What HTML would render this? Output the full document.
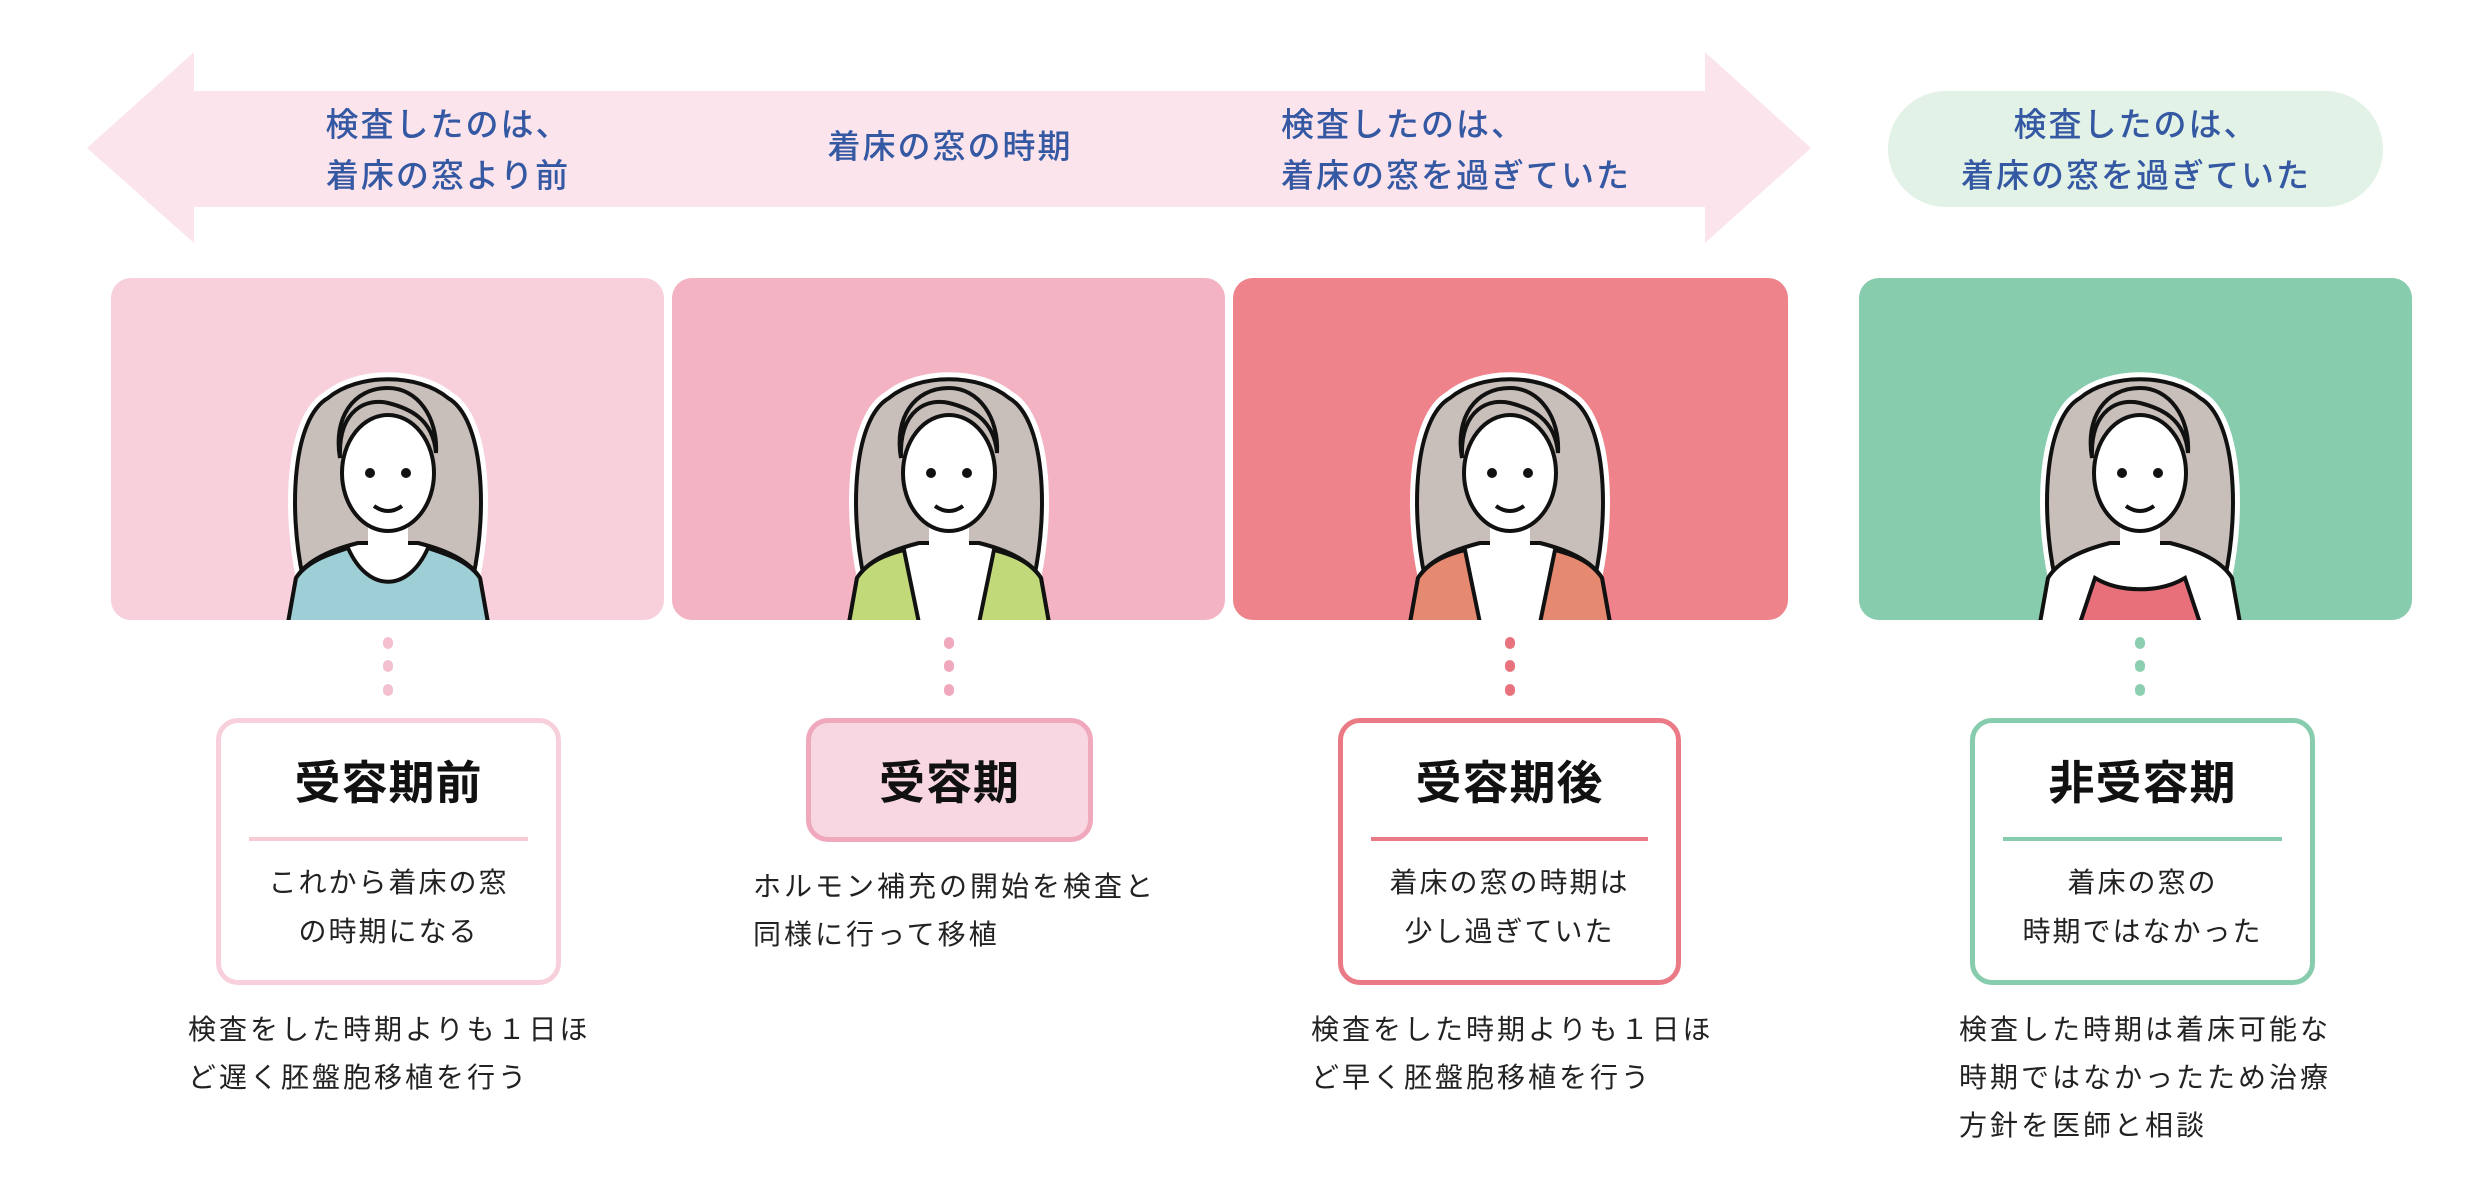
<!DOCTYPE html>
<html><head><meta charset="utf-8"><style>
body{margin:0;width:2492px;height:1178px;background:#fff;position:relative;overflow:hidden;font-family:"Liberation Sans","Noto Sans CJK JP",sans-serif}
.a{position:absolute}
.t{color:#3558a3;font-size:33px;letter-spacing:2px;line-height:51px;font-weight:500;white-space:nowrap}
.p{position:absolute;top:278px;height:342px;border-radius:20px;overflow:hidden}
.box{position:absolute;top:718px;height:267px;box-sizing:border-box;border:5px solid;border-radius:22px;background:#fff}
.ti{position:absolute;left:0;right:0;top:30px;text-align:center;font-size:46px;font-weight:bold;color:#111;line-height:60px;letter-spacing:1px}
.dv{position:absolute;left:28px;right:28px;top:114px;height:4px}
.bd{position:absolute;left:0;right:0;top:135px;text-align:center;font-size:28px;letter-spacing:2px;line-height:49px;color:#222;white-space:nowrap}
.tx{position:absolute;font-size:28px;letter-spacing:3px;line-height:48px;color:#222;white-space:nowrap}
.d{position:absolute;width:10px;height:12px;border-radius:6px}
</style></head><body>
<svg class="a" style="left:0;top:0" width="2492" height="260">
<polygon points="87,148 194,52 194,91 1705,91 1705,52 1811,148 1705,243 1705,207 194,207 194,243" fill="#fbe4ec"/>
<rect x="1888" y="91" width="495" height="116" rx="58" fill="#e2f2e6"/>
</svg>
<div class="a t" style="left:298px;top:99px;width:300px;text-align:center">検査したのは、<br>着床の窓より前</div>
<div class="a t" style="left:800px;top:121px;width:300px;text-align:center">着床の窓の時期</div>
<div class="a t" style="left:1281px;top:99px">検査したのは、<br>着床の窓を過ぎていた</div>
<div class="a t" style="left:1936px;top:99px;width:400px;text-align:center">検査したのは、<br>着床の窓を過ぎていた</div>

<div class="p" style="left:111px;width:553px;background:#f8d0dc"></div>
<div class="p" style="left:672px;width:553px;background:#f4b3c3"></div>
<div class="p" style="left:1233px;width:555px;background:#ee838b"></div>
<div class="p" style="left:1859px;width:553px;background:#88ccae"></div>

<svg class="a" style="left:0;top:0" width="2492" height="620">
<defs>
<g id="fig">
<path d="M-60,20 C-95,40 -100,130 -85,200 L85,200 C100,130 95,40 60,20 C30,-5 -30,-5 -60,20Z" fill="#c9bfba" stroke="#fff" stroke-width="14"/>
<path d="M-60,20 C-95,40 -100,130 -85,200 L85,200 C100,130 95,40 60,20 C30,-5 -30,-5 -60,20Z" fill="#c9bfba" stroke="#111" stroke-width="4"/>
<path d="M-100,245 L-92,200 C-80,180 -50,170 -30,165 L30,165 C50,170 80,180 92,200 L100,245Z" fill="#fff" stroke="#111" stroke-width="4"/>
<rect x="-20" y="130" width="40" height="60" fill="#fff"/>
<ellipse cx="0" cy="95" rx="46" ry="58" fill="#fff" stroke="#111" stroke-width="4"/>
<path d="M-48,80 C-50,30 -20,20 0,25 C20,30 45,40 48,75 C50,40 30,10 0,10 C-35,10 -55,40 -48,80Z" fill="#c9bfba" stroke="#111" stroke-width="4"/>
<circle cx="-18" cy="95" r="5" fill="#111"/><circle cx="18" cy="95" r="5" fill="#111"/>
<path d="M-14,128 Q0,138 14,128" fill="none" stroke="#111" stroke-width="4"/>
</g>
</defs>
<g transform="translate(388,378)"><use href="#fig"/><path d="M-100,245 L-92,200 C-80,182 -55,175 -40,170 C-20,215 20,215 40,170 C55,175 80,182 92,200 L100,245Z" fill="#9fcfd6" stroke="#111" stroke-width="4"/></g>
<g transform="translate(949,378)"><use href="#fig"/><path d="M-100,245 L-92,200 C-80,182 -60,176 -45,172 L-30,245Z M100,245 L92,200 C80,182 60,176 45,172 L30,245Z" fill="#c2d97a" stroke="#111" stroke-width="4"/></g>
<g transform="translate(1510,378)"><use href="#fig"/><path d="M-100,245 L-92,200 C-80,182 -60,176 -45,172 L-30,245Z M100,245 L92,200 C80,182 60,176 45,172 L30,245Z" fill="#e58a70" stroke="#111" stroke-width="4"/></g>
<g transform="translate(2140,378)"><use href="#fig"/><path d="M-60,245 L-45,200 C-20,215 20,215 45,200 L60,245Z" fill="#e7707a" stroke="#111" stroke-width="4"/></g>
</svg>

<div class="d" style="left:383px;top:637px;background:#f4c0cf"></div><div class="d" style="left:383px;top:660px;background:#f4c0cf"></div><div class="d" style="left:383px;top:684px;background:#f4c0cf"></div>
<div class="d" style="left:944px;top:637px;background:#f0a8bc"></div><div class="d" style="left:944px;top:660px;background:#f0a8bc"></div><div class="d" style="left:944px;top:684px;background:#f0a8bc"></div>
<div class="d" style="left:1505px;top:637px;background:#e8737f"></div><div class="d" style="left:1505px;top:660px;background:#e8737f"></div><div class="d" style="left:1505px;top:684px;background:#e8737f"></div>
<div class="d" style="left:2135px;top:637px;background:#8ccfb0"></div><div class="d" style="left:2135px;top:660px;background:#8ccfb0"></div><div class="d" style="left:2135px;top:684px;background:#8ccfb0"></div>

<div class="box" style="left:216px;width:345px;border-color:#f8d0dc"><div class="ti">受容期前</div><div class="dv" style="background:#f8cad6"></div><div class="bd">これから着床の窓<br>の時期になる</div></div>
<div class="box" style="left:806px;width:287px;height:124px;border-color:#f0a8bc;background:#f9d7e2"><div class="ti">受容期</div></div>
<div class="box" style="left:1338px;width:343px;border-color:#ea7a85"><div class="ti">受容期後</div><div class="dv" style="background:#ea7a85"></div><div class="bd">着床の窓の時期は<br>少し過ぎていた</div></div>
<div class="box" style="left:1970px;width:345px;border-color:#88ccae"><div class="ti">非受容期</div><div class="dv" style="background:#88ccae"></div><div class="bd">着床の窓の<br>時期ではなかった</div></div>

<div class="tx" style="left:188px;top:1006px">検査をした時期よりも１日ほ<br>ど遅く胚盤胞移植を行う</div>
<div class="tx" style="left:753px;top:863px">ホルモン補充の開始を検査と<br>同様に行って移植</div>
<div class="tx" style="left:1311px;top:1006px">検査をした時期よりも１日ほ<br>ど早く胚盤胞移植を行う</div>
<div class="tx" style="left:1959px;top:1006px">検査した時期は着床可能な<br>時期ではなかったため治療<br>方針を医師と相談</div>
</body></html>
